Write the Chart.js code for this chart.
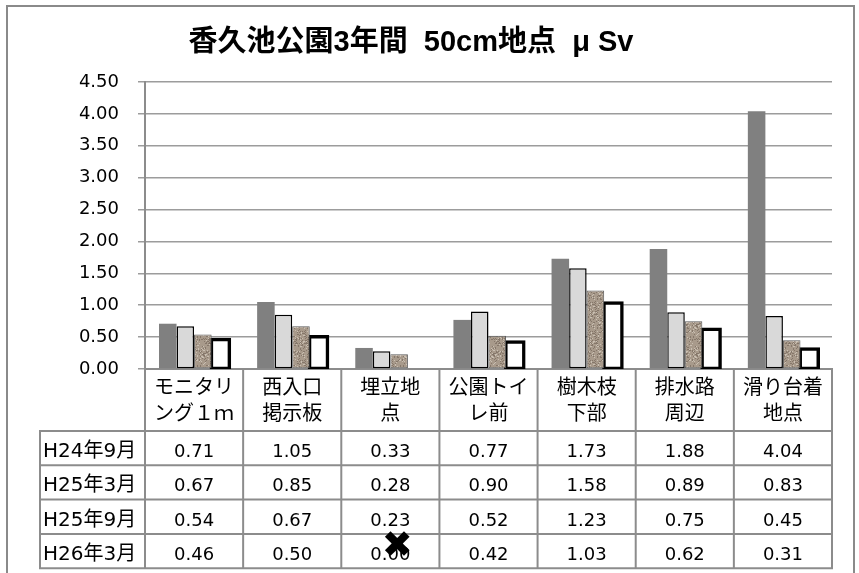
<!DOCTYPE html>
<html>
<head>
<meta charset="utf-8">
<script src="https://cdn.jsdelivr.net/npm/chart.js@4.4.1/dist/chart.umd.min.js"></script>
<style>
  html, body { margin: 0; padding: 0; background: #fff; }
  canvas { display: block; }
</style>
</head>
<body>
<canvas id="c" width="859" height="573"></canvas>
<script>
// ---- data ----
const chartTitle = '香久池公園3年間  50cm地点  μ Sv';
const categories = [
  ['モニタリ', 'ング１ｍ'],
  ['西入口', '掲示板'],
  ['埋立地', '点'],
  ['公園トイ', 'レ前'],
  ['樹木枝', '下部'],
  ['排水路', '周辺'],
  ['滑り台着', '地点']
];
const seriesNames = ['H24年9月', 'H25年3月', 'H25年9月', 'H26年3月'];
const h24Sep = [0.71, 1.05, 0.33, 0.77, 1.73, 1.88, 4.04];
const h25Mar = [0.67, 0.85, 0.28, 0.90, 1.58, 0.89, 0.83];
const h25Sep = [0.54, 0.67, 0.23, 0.52, 1.23, 0.75, 0.45];
const h26Mar = [0.46, 0.50, 0.00, 0.42, 1.03, 0.62, 0.31];
const yTickLabels = ['0.00', '0.50', '1.00', '1.50', '2.00', '2.50', '3.00', '3.50', '4.00', '4.50'];
const yMax = 4.5;
const yStep = 0.5;
// cells struck through in the table (series index, category index)
const crossedCells = [[3, 2]];

const seriesValues = [h24Sep, h25Mar, h25Sep, h26Mar];

// ---- styling helpers ----
const LATIN = '"DejaVu Sans"';
const CJK = '"Noto Sans CJK JP"';
const gridGray = '#9c9c9c';
const lineGray = '#8c8c8c';

// speckled stone fill for the third series
function stonePattern() {
  const size = 29;
  const c = document.createElement('canvas');
  c.width = c.height = size;
  const g = c.getContext('2d');
  g.fillStyle = '#a89a8b';
  g.fillRect(0, 0, size, size);
  for (let y = 0; y < size; y++) {
    for (let x = 0; x < size; x++) {
      const h = Math.abs(Math.sin(x * 12.9898 + y * 78.233) * 43758.5453) % 1;
      if (h < 0.16) { g.fillStyle = '#85776a'; g.fillRect(x, y, 1, 1); }
      else if (h > 0.86) { g.fillStyle = '#c9bfb2'; g.fillRect(x, y, 1, 1); }
    }
  }
  return g.createPattern(c, 'repeat');
}

function line(ctx, x1, y1, x2, y2) {
  ctx.beginPath();
  ctx.moveTo(x1, y1);
  ctx.lineTo(x2, y2);
  ctx.stroke();
}

// white page, outer frame, title and the data table under the plot
const tablePlugin = {
  id: 'dataTable',
  beforeDraw(chart) {
    const ctx = chart.ctx;
    ctx.save();
    ctx.fillStyle = '#fff';
    ctx.fillRect(0, 0, chart.width, chart.height);
    ctx.restore();
  },
  afterDraw(chart) {
    const { ctx, chartArea: a, scales: { x } } = chart;
    const n = categories.length;
    const half = (x.getPixelForValue(1) - x.getPixelForValue(0)) / 2;
    const top = a.bottom;
    const headBottom = top + 62;
    const rowH = 34.3;
    const tableBottom = headBottom + rowH * seriesNames.length;
    const rowHeadLeft = 40;

    ctx.save();
    // frame
    ctx.strokeStyle = '#8a8a8a';
    ctx.lineWidth = 2;
    ctx.strokeRect(7, 6, 847, 620);

    // title
    ctx.fillStyle = '#000';
    ctx.font = `bold 29px "Liberation Sans", ${CJK}`;
    ctx.textAlign = 'center';
    ctx.textBaseline = 'middle';
    ctx.fillText(chartTitle, 411, 43);

    // table grid
    ctx.strokeStyle = lineGray;
    ctx.lineWidth = 2;
    for (let i = 0; i <= n; i++) {
      const xx = i < n ? x.getPixelForValue(i) - half : x.getPixelForValue(n - 1) + half;
      line(ctx, xx, top, xx, tableBottom);
    }
    line(ctx, rowHeadLeft, headBottom, rowHeadLeft, tableBottom);
    for (let r = 0; r <= seriesNames.length; r++) {
      const yy = headBottom + r * rowH;
      line(ctx, rowHeadLeft - 1, yy, a.right + 1, yy);
    }

    // category labels
    ctx.fillStyle = '#000';
    ctx.textAlign = 'center';
    ctx.textBaseline = 'middle';
    ctx.font = `20px ${LATIN}, ${CJK}`;
    categories.forEach((lines, i) => {
      const cx = x.getPixelForValue(i);
      lines.forEach((t, k) => ctx.fillText(t, cx, top + 20 + k * 26));
    });

    // row headers and values
    ctx.textBaseline = 'alphabetic';
    seriesNames.forEach((name, r) => {
      const base = headBottom + r * rowH + 26;
      ctx.textAlign = 'left';
      ctx.font = `20px ${LATIN}, ${CJK}`;
      ctx.fillText(name, rowHeadLeft + 3, base);
      ctx.textAlign = 'center';
      ctx.font = `18px ${LATIN}, ${CJK}`;
      seriesValues[r].forEach((v, i) => {
        ctx.fillText(v.toFixed(2), x.getPixelForValue(i), base);
      });
    });

    // strike marks
    ctx.font = `bold 37px ${LATIN}`;
    ctx.textAlign = 'center';
    ctx.textBaseline = 'middle';
    crossedCells.forEach(([r, i]) => {
      ctx.fillText('✖', x.getPixelForValue(i) + 7, headBottom + r * rowH + 13);
    });
    ctx.restore();
  }
};

const fills = ['#808080', '#d9d9d9', stonePattern(), '#ffffff'];
const borders = ['#7a7a7a', '#000000', '#5a5a5a', '#000000'];
const borderWidths = [0, 1.5, 1, 3.5];

new Chart(document.getElementById('c'), {
  type: 'bar',
  data: {
    labels: categories,
    datasets: seriesNames.map((name, s) => ({
      label: name,
      data: seriesValues[s],
      backgroundColor: fills[s],
      borderColor: borders[s],
      borderWidth: borderWidths[s],
      borderSkipped: false,
      inflateAmount: s === 3 ? (c => (c.raw === 0 ? 0 : 2)) : 0,
      categoryPercentage: 0.715,
      barPercentage: 1.0
    }))
  },
  options: {
    responsive: false,
    devicePixelRatio: 1,
    animation: false,
    layout: { padding: { left: 0, right: 27, top: 82, bottom: 0 } },
    plugins: {
      legend: { display: false },
      title: { display: false },
      tooltip: { enabled: false }
    },
    scales: {
      x: {
        offset: true,
        ticks: { display: false },
        grid: { display: false },
        border: { display: true, color: lineGray, width: 2 },
        afterFit(scale) { scale.height = 204; }
      },
      y: {
        min: 0,
        max: yMax,
        ticks: {
          stepSize: yStep,
          padding: 19,
          color: '#000',
          font: { family: 'DejaVu Sans', size: 18 },
          callback: (v, i) => yTickLabels[i]
        },
        grid: { color: gridGray, lineWidth: 1.5, tickLength: 7 },
        border: { color: lineGray, width: 2 },
        afterFit(scale) { scale.width = 145; }
      }
    }
  },
  plugins: [tablePlugin]
});
</script>
</body>
</html>
